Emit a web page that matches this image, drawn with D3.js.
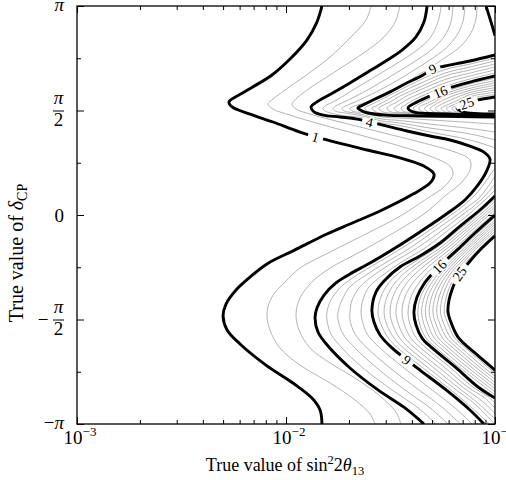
<!DOCTYPE html>
<html><head><meta charset="utf-8">
<script src="https://cdn.jsdelivr.net/npm/d3@7"></script>
<style>
html,body{margin:0;padding:0;background:#fff;}
svg{display:block;}
text{font-family:"Liberation Serif","Tinos","Times New Roman","DejaVu Serif",serif;fill:#000;}
</style></head><body>
<svg id="chart" width="506" height="480"></svg>
<script>
// ---- axis data ----
const xMajorTicks = [1e-3, 1e-2, 1e-1];
const xMajorExps = ["\u22123", "\u22122", "\u22121"];
const xMinorTicks = [2e-3,3e-3,4e-3,5e-3,6e-3,7e-3,8e-3,9e-3,2e-2,3e-2,4e-2,5e-2,6e-2,7e-2,8e-2,9e-2];
const yMajorTicks = [-1, -0.5, 0, 0.5, 1];          // delta_CP in units of pi
const yMinorTicks = [-0.75, -0.25, 0.25, 0.75];
const majorLevels = [1, 4, 9, 16, 25];
// ---- contour lines: [log10(sin^2 2theta13), delta_CP/pi] ----
const c1 = [[-1.828,1],[-1.852,.923],[-1.900,.837],[-1.976,.751],[-2.067,.670],[-2.167,.608],[-2.234,.569],[-2.273,.541],[-2.258,.517],[-2.172,.483],[-2.062,.445],[-1.933,.397],[-1.804,.359],[-1.612,.311],[-1.455,.273],[-1.340,.234],[-1.292,.196],[-1.306,.158],[-1.392,.100],[-1.550,.019],[-1.694,-.043],[-1.804,-.091],[-1.957,-.167],[-2.091,-.234],[-2.172,-.297],[-2.239,-.359],[-2.287,-.426],[-2.301,-.483],[-2.282,-.550],[-2.220,-.617],[-2.096,-.718],[-1.967,-.804],[-1.876,-.876],[-1.837,-.933],[-1.828,-1]];
const c2 = [[-1.593,1],[-1.617,.933],[-1.694,.847],[-1.789,.756],[-1.909,.665],[-2.005,.598],[-2.062,.555],[-2.086,.531],[-2.062,.507],[-1.981,.478],[-1.837,.435],[-1.646,.383],[-1.455,.330],[-1.301,.278],[-1.215,.234],[-1.201,.196],[-1.239,.139],[-1.335,.072],[-1.445,0],[-1.598,-.081],[-1.789,-.177],[-1.933,-.254],[-2.005,-.321],[-2.067,-.392],[-2.091,-.469],[-2.077,-.550],[-2.029,-.636],[-1.933,-.718],[-1.789,-.804],[-1.670,-.885],[-1.598,-.952],[-1.574,-1]];
const c3 = [[-1.455,1],[-1.478,.923],[-1.536,.847],[-1.622,.780],[-1.694,.732],[-1.789,.670],[-1.885,.608],[-1.947,.560],[-1.971,.531],[-1.952,.507],[-1.885,.483],[-1.742,.445],[-1.550,.397],[-1.359,.349],[-1.191,.301],[-1.124,.268],[-1.115,.230],[-1.158,.158],[-1.239,.091],[-1.340,.005],[-1.478,-.081],[-1.646,-.177],[-1.789,-.254],[-1.876,-.321],[-1.933,-.397],[-1.952,-.474],[-1.938,-.550],[-1.885,-.636],[-1.789,-.708],[-1.670,-.780],[-1.550,-.866],[-1.474,-.943],[-1.450,-1]];
const c4 = [[-1.325,1],[-1.340,.923],[-1.378,.852],[-1.445,.789],[-1.522,.737],[-1.608,.684],[-1.694,.632],[-1.785,.579],[-1.852,.541],[-1.880,.517],[-1.866,.493],[-1.823,.478],[-1.742,.469],[-1.660,.459],[-1.541,.431],[-1.421,.402],[-1.311,.378],[-1.215,.359],[-1.120,.330],[-1.053,.301],[-1.024,.268],[-1.038,.215],[-1.081,.144],[-1.144,.072],[-1.239,0],[-1.359,-.081],[-1.478,-.158],[-1.598,-.230],[-1.694,-.282],[-1.761,-.325],[-1.818,-.383],[-1.852,-.445],[-1.861,-.493],[-1.847,-.560],[-1.799,-.627],[-1.694,-.732],[-1.560,-.837],[-1.431,-.923],[-1.340,-1]];
const c5a = [[-1.258,1],[-1.273,.923],[-1.311,.847],[-1.378,.785],[-1.459,.732],[-1.545,.679],[-1.632,.627],[-1.703,.584],[-1.766,.545],[-1.813,.522],[-1.823,.510],[-1.813,.498],[-1.742,.478],[-1.646,.467],[-1.541,.440],[-1.455,.428],[-1.311,.397],[-1.120,.359],[-1,.321]];
const c5b = [[-1,.225],[-1.043,.163],[-1.091,.100],[-1.153,.043],[-1.211,0],[-1.325,-.081],[-1.445,-.158],[-1.565,-.230],[-1.660,-.287],[-1.737,-.344],[-1.785,-.407],[-1.804,-.464],[-1.804,-.502],[-1.785,-.569],[-1.732,-.636],[-1.632,-.732],[-1.493,-.837],[-1.368,-.923],[-1.282,-1]];
const c6a = [[-1.201,1],[-1.211,.923],[-1.244,.852],[-1.306,.789],[-1.388,.732],[-1.474,.679],[-1.560,.627],[-1.636,.584],[-1.713,.545],[-1.761,.522],[-1.775,.510],[-1.766,.498],[-1.703,.486],[-1.646,.476],[-1.541,.450],[-1.455,.440],[-1.311,.416],[-1.120,.388],[-1,.359]];
const c6b = [[-1,.187],[-1.038,.129],[-1.081,.077],[-1.139,.033],[-1.182,0],[-1.297,-.081],[-1.407,-.158],[-1.526,-.230],[-1.617,-.287],[-1.694,-.344],[-1.732,-.407],[-1.751,-.464],[-1.751,-.502],[-1.727,-.569],[-1.670,-.636],[-1.565,-.732],[-1.431,-.837],[-1.311,-.923],[-1.225,-1]];
const c7a = [[-1.144,1],[-1.153,.928],[-1.182,.861],[-1.234,.799],[-1.311,.742],[-1.402,.684],[-1.488,.632],[-1.569,.589],[-1.660,.545],[-1.713,.522],[-1.732,.510],[-1.722,.498],[-1.684,.490],[-1.646,.483],[-1.541,.459],[-1.455,.452],[-1.311,.435],[-1.120,.414],[-1,.397]];
const c7b = [[-1,.148],[-1.048,.091],[-1.100,.043],[-1.158,0],[-1.263,-.081],[-1.373,-.158],[-1.493,-.230],[-1.579,-.287],[-1.646,-.344],[-1.684,-.407],[-1.694,-.464],[-1.694,-.502],[-1.670,-.569],[-1.612,-.636],[-1.502,-.732],[-1.364,-.837],[-1.249,-.923],[-1.167,-1]];
const c8a = [[-1.086,1],[-1.091,.938],[-1.115,.871],[-1.163,.809],[-1.234,.756],[-1.321,.699],[-1.411,.641],[-1.502,.593],[-1.603,.545],[-1.670,.522],[-1.694,.510],[-1.684,.498],[-1.665,.493],[-1.636,.490],[-1.541,.469],[-1.455,.464],[-1.311,.455],[-1.120,.443],[-1,.435]];
const c8b = [[-1,.120],[-1.038,.081],[-1.081,.043],[-1.129,0],[-1.234,-.081],[-1.335,-.158],[-1.455,-.230],[-1.536,-.287],[-1.603,-.344],[-1.632,-.407],[-1.641,-.464],[-1.636,-.502],[-1.612,-.569],[-1.550,-.636],[-1.435,-.732],[-1.301,-.837],[-1.191,-.923],[-1.110,-1]];
const c9a = [[-1.043,1],[-1.022,.933],[-1,.859]];
const c9b = [[-1,.766],[-1.120,.737],[-1.239,.713],[-1.301,.699],[-1.344,.670],[-1.431,.627],[-1.502,.589],[-1.574,.555],[-1.622,.531],[-1.656,.512],[-1.636,.498],[-1.608,.488],[-1.526,.478],[-1.359,.474],[-1.167,.471],[-1,.469]];
const c9c = [[-1,.091],[-1.072,.024],[-1.167,-.053],[-1.263,-.134],[-1.359,-.196],[-1.455,-.249],[-1.526,-.311],[-1.569,-.368],[-1.589,-.455],[-1.579,-.512],[-1.550,-.574],[-1.493,-.636],[-1.421,-.694],[-1.359,-.742],[-1.234,-.837],[-1.120,-.933],[-1.053,-1]];
const c10a = [[-1,.751],[-1.120,.722],[-1.239,.696],[-1.359,.646],[-1.455,.598],[-1.550,.550],[-1.598,.526],[-1.622,.512],[-1.608,.495],[-1.526,.483],[-1.359,.476],[-1.167,.473],[-1,.470]];
const c11a = [[-1,.737],[-1.120,.708],[-1.239,.679],[-1.359,.629],[-1.455,.584],[-1.526,.545],[-1.569,.522],[-1.589,.512],[-1.574,.495],[-1.502,.483],[-1.359,.478],[-1.167,.474],[-1,.470]];
const c12a = [[-1,.722],[-1.120,.694],[-1.239,.665],[-1.359,.612],[-1.455,.569],[-1.502,.541],[-1.541,.522],[-1.555,.512],[-1.541,.495],[-1.478,.486],[-1.359,.481],[-1.167,.475],[-1,.471]];
const c13a = [[-1,.708],[-1.120,.679],[-1.239,.648],[-1.359,.598],[-1.431,.565],[-1.478,.536],[-1.507,.522],[-1.517,.512],[-1.502,.495],[-1.445,.488],[-1.359,.483],[-1.167,.477],[-1,.472]];
const c14a = [[-1,.694],[-1.120,.665],[-1.239,.632],[-1.359,.581],[-1.416,.555],[-1.455,.531],[-1.474,.519],[-1.483,.512],[-1.469,.495],[-1.416,.490],[-1.359,.486],[-1.167,.478],[-1,.472]];
const c15a = [[-1,.679],[-1.120,.651],[-1.239,.615],[-1.359,.565],[-1.407,.541],[-1.435,.522],[-1.450,.512],[-1.435,.495],[-1.397,.491],[-1.359,.488],[-1.167,.479],[-1,.473]];
const c16a = [[-1,.665],[-1.120,.636],[-1.206,.612],[-1.263,.589],[-1.321,.565],[-1.383,.536],[-1.416,.512],[-1.392,.493],[-1.230,.483],[-1,.474]];
const c17a = [[-1,.654],[-1.120,.627],[-1.239,.589],[-1.335,.545],[-1.378,.522],[-1.390,.512],[-1.378,.495],[-1.230,.484],[-1,.475]];
const c18a = [[-1,.643],[-1.120,.617],[-1.239,.579],[-1.311,.541],[-1.354,.522],[-1.364,.512],[-1.349,.495],[-1.215,.485],[-1,.476]];
const c19a = [[-1,.632],[-1.120,.606],[-1.239,.569],[-1.292,.538],[-1.325,.522],[-1.337,.512],[-1.325,.495],[-1.206,.487],[-1,.477]];
const c20a = [[-1,.621],[-1.120,.596],[-1.225,.560],[-1.273,.536],[-1.301,.519],[-1.311,.512],[-1.297,.495],[-1.191,.488],[-1,.478]];
const c21a = [[-1,.609],[-1.120,.586],[-1.206,.553],[-1.254,.531],[-1.275,.519],[-1.285,.512],[-1.273,.495],[-1.182,.489],[-1,.478]];
const c22a = [[-1,.598],[-1.120,.576],[-1.187,.545],[-1.230,.526],[-1.249,.517],[-1.258,.512],[-1.244,.495],[-1.167,.490],[-1,.480]];
const c23a = [[-1,.587],[-1.120,.566],[-1.167,.541],[-1.206,.524],[-1.222,.517],[-1.232,.512],[-1.220,.495],[-1.158,.491],[-1,.481]];
const c24a = [[-1,.576],[-1.120,.556],[-1.153,.536],[-1.187,.522],[-1.206,.512],[-1.191,.495],[-1.148,.492],[-1,.482]];
const c25a = [[-1,.565],[-1.086,.550],[-1.134,.536],[-1.167,.522],[-1.182,.512],[-1.153,.493],[-1,.483]];
const c10b = [[-1,.078],[-1.087,0],[-1.191,-.086],[-1.289,-.163],[-1.379,-.220],[-1.461,-.278],[-1.512,-.330],[-1.546,-.392],[-1.560,-.464],[-1.544,-.526],[-1.510,-.589],[-1.466,-.636],[-1.351,-.727],[-1.229,-.823],[-1.110,-.923],[-1.027,-1]];
const c11b = [[-1,.065],[-1.073,0],[-1.175,-.086],[-1.270,-.163],[-1.356,-.220],[-1.433,-.278],[-1.483,-.330],[-1.517,-.392],[-1.531,-.464],[-1.517,-.526],[-1.483,-.589],[-1.438,-.636],[-1.325,-.727],[-1.204,-.823],[-1.091,-.909],[-1.002,-1]];
const c12b = [[-1,.052],[-1.058,0],[-1.159,-.086],[-1.251,-.163],[-1.333,-.220],[-1.406,-.278],[-1.455,-.330],[-1.489,-.392],[-1.502,-.464],[-1.489,-.526],[-1.456,-.589],[-1.411,-.636],[-1.298,-.727],[-1.180,-.823],[-1.077,-.904],[-1,-.976]];
const c13b = [[-1,.039],[-1.043,0],[-1.143,-.086],[-1.233,-.163],[-1.309,-.220],[-1.378,-.278],[-1.426,-.330],[-1.459,-.392],[-1.474,-.464],[-1.461,-.526],[-1.430,-.589],[-1.383,-.636],[-1.271,-.727],[-1.155,-.823],[-1.062,-.890],[-1,-.950]];
const c14b = [[-1,.026],[-1.029,0],[-1.127,-.086],[-1.214,-.163],[-1.286,-.220],[-1.351,-.278],[-1.397,-.330],[-1.431,-.392],[-1.445,-.464],[-1.433,-.526],[-1.403,-.589],[-1.356,-.636],[-1.244,-.727],[-1.131,-.823],[-1.048,-.876],[-1,-.924]];
const c15b = [[-1,.013],[-1.014,0],[-1.111,-.086],[-1.196,-.163],[-1.263,-.220],[-1.324,-.278],[-1.368,-.330],[-1.402,-.392],[-1.416,-.464],[-1.406,-.526],[-1.376,-.589],[-1.329,-.636],[-1.218,-.727],[-1.106,-.823],[-1.038,-.866],[-1,-.899]];
const c16b = [[-1,0],[-1.096,-.086],[-1.177,-.163],[-1.239,-.220],[-1.297,-.278],[-1.340,-.330],[-1.373,-.392],[-1.388,-.464],[-1.378,-.526],[-1.349,-.589],[-1.301,-.636],[-1.191,-.727],[-1.081,-.823],[-1,-.876]];
const c17b = [[-1,-.011],[-1.165,-.163],[-1.226,-.220],[-1.282,-.278],[-1.323,-.330],[-1.356,-.392],[-1.369,-.464],[-1.359,-.526],[-1.330,-.589],[-1.281,-.636],[-1.172,-.727],[-1,-.861]];
const c18b = [[-1,-.022],[-1.152,-.163],[-1.212,-.220],[-1.268,-.278],[-1.307,-.330],[-1.338,-.392],[-1.351,-.464],[-1.339,-.526],[-1.310,-.589],[-1.261,-.636],[-1.153,-.727],[-1,-.846]];
const c19b = [[-1,-.033],[-1.140,-.163],[-1.199,-.220],[-1.254,-.278],[-1.291,-.330],[-1.321,-.392],[-1.333,-.464],[-1.320,-.526],[-1.290,-.589],[-1.241,-.636],[-1.133,-.727],[-1,-.831]];
const c20b = [[-1,-.044],[-1.128,-.163],[-1.186,-.220],[-1.239,-.278],[-1.275,-.330],[-1.303,-.392],[-1.315,-.464],[-1.300,-.526],[-1.271,-.589],[-1.221,-.636],[-1.114,-.727],[-1,-.816]];
const c21b = [[-1,-.056],[-1.115,-.163],[-1.172,-.220],[-1.225,-.278],[-1.259,-.330],[-1.286,-.392],[-1.297,-.464],[-1.281,-.526],[-1.251,-.589],[-1.201,-.636],[-1.094,-.727],[-1,-.801]];
const c22b = [[-1,-.067],[-1.103,-.163],[-1.158,-.220],[-1.211,-.278],[-1.243,-.330],[-1.268,-.392],[-1.279,-.464],[-1.262,-.526],[-1.231,-.589],[-1.181,-.636],[-1.075,-.727],[-1,-.786]];
const c23b = [[-1,-.078],[-1.091,-.163],[-1.145,-.220],[-1.197,-.278],[-1.227,-.330],[-1.251,-.392],[-1.261,-.464],[-1.243,-.526],[-1.211,-.589],[-1.161,-.636],[-1.056,-.727],[-1,-.771]];
const c24b = [[-1,-.089],[-1.078,-.163],[-1.132,-.220],[-1.182,-.278],[-1.211,-.330],[-1.233,-.392],[-1.243,-.464],[-1.223,-.526],[-1.192,-.589],[-1.141,-.636],[-1.036,-.727],[-1,-.756]];
const c25b = [[-1,-.100],[-1.081,-.177],[-1.139,-.244],[-1.172,-.282],[-1.201,-.344],[-1.220,-.407],[-1.225,-.464],[-1.215,-.502],[-1.177,-.584],[-1.096,-.660],[-1,-.742]];
// contour labels
const labelTexts = ["1", "4", "9", "16", "25", "9", "16", "25"];
const labelLevels = [1, 4, 9, 16, 25, 9, 16, 25];
const labelPos = [[-1.856,.376],[-1.598,.445],[-1.301,.699],[-1.263,.589],[-1.134,.536],[-1.421,-.694],[-1.268,-.249],[-1.172,-.282]];

// table of pieces built from the arrays above
const pieces = [[1,c1],[2,c2],[3,c3],[4,c4],[5,c5a],[5,c5b],[6,c6a],[6,c6b],[7,c7a],[7,c7b],[8,c8a],[8,c8b],
  [9,c9a],[9,c9b],[9,c9c],[10,c10a],[10,c10b],[11,c11a],[11,c11b],[12,c12a],[12,c12b],[13,c13a],[13,c13b],
  [14,c14a],[14,c14b],[15,c15a],[15,c15b],[16,c16a],[16,c16b],[17,c17a],[17,c17b],[18,c18a],[18,c18b],
  [19,c19a],[19,c19b],[20,c20a],[20,c20b],[21,c21a],[21,c21b],[22,c22a],[22,c22b],[23,c23a],[23,c23b],
  [24,c24a],[24,c24b],[25,c25a],[25,c25b]];

const P = {l:77, r:495, t:6, b:424};
const svg = d3.select("#chart");
const x = d3.scaleLog().domain([1e-3, 1e-1]).range([P.l, P.r]);
const y = d3.scaleLinear().domain([-1, 1]).range([P.b, P.t]);
const line = d3.line().x(d => x(Math.pow(10, d[0]))).y(d => y(d[1])).curve(d3.curveCatmullRom.alpha(0.5));

svg.append("defs").append("clipPath").attr("id","clip").append("rect")
  .attr("x",P.l).attr("y",P.t).attr("width",P.r-P.l).attr("height",P.b-P.t);
const plot = svg.append("g").attr("clip-path","url(#clip)");

plot.selectAll("path.minor").data(pieces.filter(p => !majorLevels.includes(p[0]))).join("path")
  .attr("class","minor").attr("d", d => line(d[1])).attr("fill","none")
  .attr("stroke","#b4b4b4").attr("stroke-width",1);
const thick = plot.selectAll("path.major").data(pieces.filter(p => majorLevels.includes(p[0]))).join("path")
  .attr("class","major").attr("d", d => line(d[1])).attr("fill","none")
  .attr("stroke","#000").attr("stroke-width",2.9).attr("stroke-linejoin","round");

// labels placed on their contour, rotated along it
const labG = plot.append("g");
labelTexts.forEach((t, i) => {
  const px = x(Math.pow(10, labelPos[i][0])), py = y(labelPos[i][1]);
  let best = null;
  thick.filter(d => d[0] === labelLevels[i]).each(function() {
    const L = this.getTotalLength();
    for (let s = 0; s <= L; s += 1) {
      const p = this.getPointAtLength(s);
      const dd = (p.x-px)**2 + (p.y-py)**2;
      if (!best || dd < best.d) best = {d:dd, node:this, s:s, L:L};
    }
  });
  const a = best.node.getPointAtLength(Math.max(0, best.s-5));
  const b = best.node.getPointAtLength(Math.min(best.L, best.s+5));
  const c = best.node.getPointAtLength(best.s);
  let ang = Math.atan2(b.y-a.y, b.x-a.x) * 180 / Math.PI;
  if (ang > 90) ang -= 180;
  if (ang < -90) ang += 180;
  const g = labG.append("g").attr("transform", `translate(${c.x},${c.y}) rotate(${ang})`);
  const w = t.length * 7.5 + 8;
  g.append("rect").attr("x", -w/2).attr("y", -3).attr("width", w).attr("height", 6).attr("fill", "#fff");
  g.append("text").attr("text-anchor","middle").attr("y", 5).attr("font-size", 14)
    .attr("stroke","#fff").attr("stroke-width",2.5).attr("paint-order","stroke").text(t);
});

// ticks (inward, all four sides)
function ticks(axisFn, vals, len, transform) {
  svg.append("g").attr("transform", transform)
    .call(axisFn.tickValues(vals).tickSizeInner(-len).tickSizeOuter(0).tickFormat(""))
    .call(g => g.select(".domain").remove())
    .call(g => g.selectAll("line").attr("stroke","#000").attr("stroke-width",1));
}
ticks(d3.axisBottom(x), xMajorTicks, 7, `translate(0,${P.b})`);
ticks(d3.axisBottom(x), xMinorTicks, 4, `translate(0,${P.b})`);
ticks(d3.axisTop(x), xMajorTicks, 7, `translate(0,${P.t})`);
ticks(d3.axisTop(x), xMinorTicks, 4, `translate(0,${P.t})`);
ticks(d3.axisLeft(y), yMajorTicks, 7, `translate(${P.l},0)`);
ticks(d3.axisLeft(y), yMinorTicks, 4, `translate(${P.l},0)`);
ticks(d3.axisRight(y), yMajorTicks, 7, `translate(${P.r},0)`);
ticks(d3.axisRight(y), yMinorTicks, 4, `translate(${P.r},0)`);

svg.append("rect").attr("x",P.l).attr("y",P.t).attr("width",P.r-P.l).attr("height",P.b-P.t)
  .attr("fill","none").attr("stroke","#000").attr("stroke-width",1.3);

// x tick labels 10^k
xMajorTicks.forEach((v, i) => {
  const t = svg.append("text").attr("x", x(v) + 3).attr("y", 444).attr("text-anchor","middle").attr("font-size",19);
  t.append("tspan").text("10");
  t.append("tspan").attr("dy",-8).attr("font-size",13).text(xMajorExps[i]);
});
// y tick labels (pi fractions)
const yl = svg.append("g").attr("font-size",19);
yMajorTicks.forEach(v => {
  const ty = y(v);
  if (v === 0) {
    yl.append("text").attr("x",64).attr("y",ty+6.5).attr("text-anchor","end").text("0");
  } else if (Math.abs(v) === 1) {
    yl.append("text").attr("x",64).attr("y",ty+5).attr("text-anchor","end")
      .html(v < 0 ? '\u2212<tspan font-style="italic">\u03c0</tspan>' : '<tspan font-style="italic">\u03c0</tspan>');
  } else {
    yl.append("text").attr("x",58.5).attr("y",ty-6.5).attr("text-anchor","middle").attr("font-style","italic").text("\u03c0");
    yl.append("line").attr("x1",53).attr("x2",64).attr("y1",ty+0.5).attr("y2",ty+0.5).attr("stroke","#000").attr("stroke-width",1);
    yl.append("text").attr("x",58.5).attr("y",ty+15.5).attr("text-anchor","middle").text("2");
    if (v < 0) yl.append("text").attr("x",43).attr("y",ty+6).attr("text-anchor","middle").text("\u2212");
  }
});
// axis titles
const xt = svg.append("text").attr("x",285).attr("y",471).attr("text-anchor","middle").attr("font-size",18);
xt.append("tspan").text("True value of sin");
xt.append("tspan").attr("dy",-7).attr("font-size",12.5).text("2");
xt.append("tspan").attr("dy",7).text("2");
xt.append("tspan").attr("font-style","italic").text("\u03b8");
xt.append("tspan").attr("dy",4).attr("font-size",12.5).text("13");
const yt = svg.append("text").attr("transform","translate(23,253) rotate(-90)").attr("text-anchor","middle").attr("font-size",20);
yt.append("tspan").text("True value of ");
yt.append("tspan").attr("font-style","italic").text("\u03b4");
yt.append("tspan").attr("dy",4).attr("font-size",14).text("CP");
</script>
</body></html>
